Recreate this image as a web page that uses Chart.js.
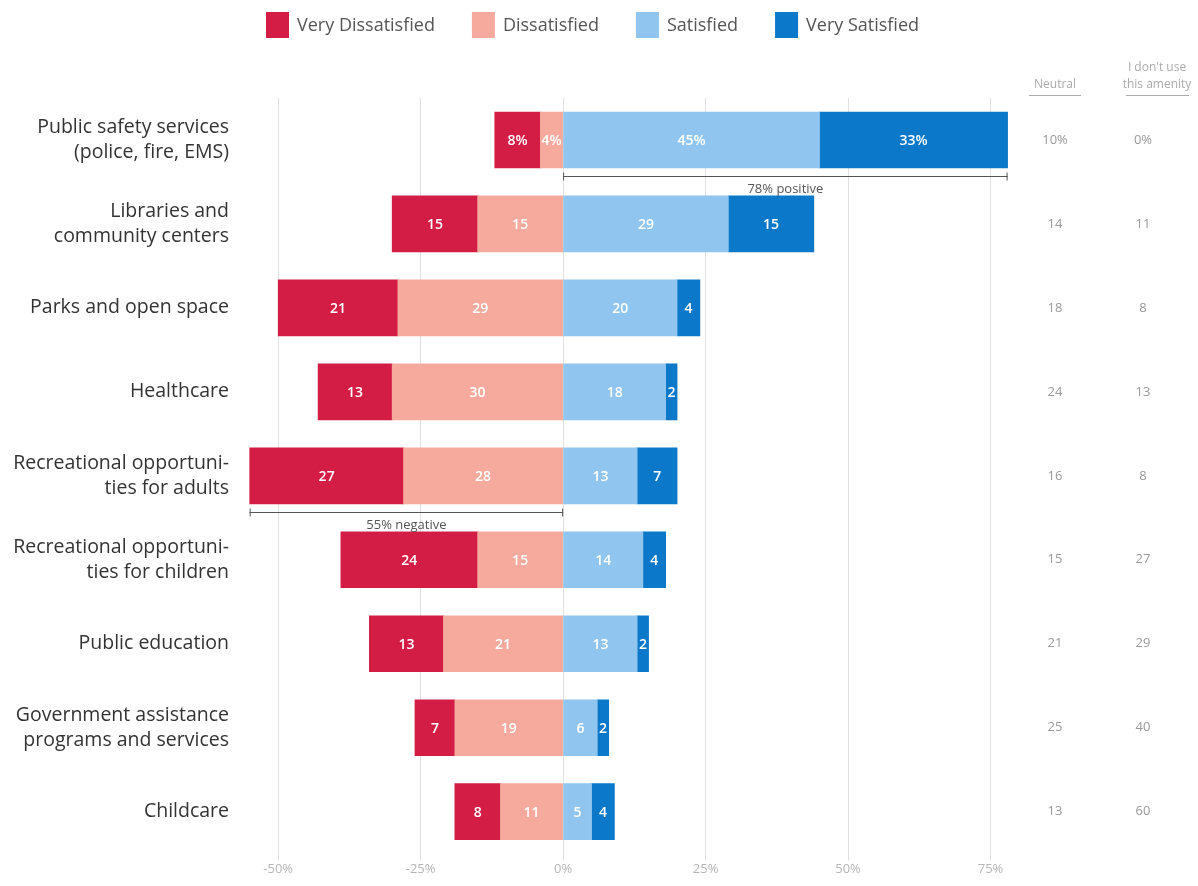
<!DOCTYPE html>
<html>
<head>
<meta charset="utf-8">
<script src="https://cdn.jsdelivr.net/npm/chart.js@4"></script>
<style>
  html, body { margin: 0; padding: 0; background: #fff; overflow: hidden; }
  #wrap { width: 1198px; height: 886px; position: relative; }
  #chart { display: block; }
</style>
</head>
<body>
<div id="wrap"><canvas id="chart"></canvas></div>
<script>
const categories = [
  ["Public safety services", "(police, fire, EMS)"],
  ["Libraries and", "community centers"],
  "Parks and open space",
  "Healthcare",
  ["Recreational opportuni-", "ties for adults"],
  ["Recreational opportuni-", "ties for children"],
  "Public education",
  ["Government assistance", "programs and services"],
  "Childcare",
];
const veryDissatisfied = [8, 15, 21, 13, 27, 24, 13, 7, 8];
const dissatisfied = [4, 15, 29, 30, 28, 15, 21, 19, 11];
const satisfied = [45, 29, 20, 18, 13, 14, 13, 6, 5];
const verySatisfied = [33, 15, 4, 2, 7, 4, 2, 2, 4];
const neutral = [10, 14, 18, 24, 16, 15, 21, 25, 13];
const notUsed = [0, 11, 8, 13, 8, 27, 29, 40, 60];
const xTicks = [-50, -25, 0, 25, 50, 75];

// rows that get a "% positive" / "% negative" bracket underneath
const positiveCallout = 0;
const negativeCallout = 4;

const colors = {
  vd: "#d31d45",
  d: "#f5aa9d",
  s: "#8fc5ee",
  vs: "#0b78c9",
};

Chart.defaults.font.family = "'Open Sans', sans-serif";

// negatives stack outward from zero, so Dissatisfied goes before Very Dissatisfied
const legendOrder = [1, 0, 2, 3];

// legend row across the top
const topLegend = {
  id: "topLegend",
  afterDraw(chart) {
    const ctx = chart.ctx;
    const items = chart.data.datasets
      .map((ds, i) => ({ ds, pos: legendOrder[i] }))
      .sort((a, b) => a.pos - b.pos);
    ctx.save();
    ctx.font = "18px 'Open Sans', sans-serif";
    ctx.textBaseline = "middle";
    let x = 266;
    items.forEach(({ ds }) => {
      ctx.fillStyle = ds.backgroundColor;
      ctx.fillRect(x, 12, 23, 26);
      ctx.fillStyle = "#555";
      ctx.fillText(ds.label, x + 31, 26);
      x += 31 + ctx.measureText(ds.label).width + 37;
    });
    ctx.restore();
  },
};

// white numbers inside each segment, first row gets a % sign
const segmentLabels = {
  id: "segmentLabels",
  afterDatasetsDraw(chart) {
    const ctx = chart.ctx;
    ctx.save();
    ctx.fillStyle = "#fff";
    ctx.font = "600 14px 'Open Sans', sans-serif";
    ctx.textAlign = "center";
    ctx.textBaseline = "middle";
    chart.data.datasets.forEach((ds, i) => {
      chart.getDatasetMeta(i).data.forEach((bar, j) => {
        const v = Math.abs(ds.data[j]);
        const txt = j === 0 ? v + "%" : String(v);
        ctx.fillText(txt, (bar.x + bar.base) / 2, bar.y + 1);
      });
    });
    ctx.restore();
  },
};

// brackets under the first row (positive) and fifth row (negative)
const callouts = {
  id: "callouts",
  afterDatasetsDraw(chart) {
    const ctx = chart.ctx,
      x = chart.scales.x,
      y = chart.scales.y;
    const drawBracket = (row, from, to, text) => {
      const yy = Math.round(y.getPixelForValue(row) + 28 + 8) + 0.5,
        x1 = x.getPixelForValue(from),
        x2 = x.getPixelForValue(to);
      ctx.save();
      ctx.strokeStyle = "#555";
      ctx.lineWidth = 1;
      ctx.beginPath();
      ctx.moveTo(x1, yy);
      ctx.lineTo(x2, yy);
      ctx.moveTo(x1 + 0.5, yy - 4);
      ctx.lineTo(x1 + 0.5, yy + 4);
      ctx.moveTo(x2 - 0.5, yy - 4);
      ctx.lineTo(x2 - 0.5, yy + 4);
      ctx.stroke();
      ctx.fillStyle = "#555";
      ctx.font = "13px 'Open Sans', sans-serif";
      ctx.textAlign = "center";
      ctx.textBaseline = "middle";
      ctx.fillText(text, (x1 + x2) / 2, yy + 13);
      ctx.restore();
    };
    const pos = satisfied[positiveCallout] + verySatisfied[positiveCallout];
    drawBracket(positiveCallout, 0, pos, pos + "% positive");
    const neg = veryDissatisfied[negativeCallout] + dissatisfied[negativeCallout];
    drawBracket(negativeCallout, -neg, 0, neg + "% negative");
  },
};

// the Neutral and "I don't use" columns on the right
const sideColumns = {
  id: "sideColumns",
  afterDraw(chart) {
    const ctx = chart.ctx,
      area = chart.chartArea,
      y = chart.scales.y,
      colN = area.right + 36,
      colU = area.right + 124;
    ctx.save();
    ctx.fillStyle = "#aaa";
    ctx.strokeStyle = "#aaa";
    ctx.font = "12px 'Open Sans', sans-serif";
    ctx.textAlign = "center";
    ctx.textBaseline = "middle";
    ctx.fillText("Neutral", colN, 85);
    ctx.fillText("I don't use", colU + 14, 68);
    ctx.fillText("this amenity", colU + 14, 85);
    ctx.lineWidth = 1;
    ctx.beginPath();
    ctx.moveTo(colN - 26, 95.5);
    ctx.lineTo(colN + 26, 95.5);
    ctx.moveTo(colU - 17, 95.5);
    ctx.lineTo(colU + 46, 95.5);
    ctx.stroke();
    ctx.font = "13px 'Open Sans', sans-serif";
    ctx.fillStyle = "#999";
    categories.forEach((c, i) => {
      const yy = y.getPixelForValue(i);
      const suffix = i === 0 ? "%" : "";
      ctx.fillText(neutral[i] + suffix, colN, yy);
      ctx.fillText(notUsed[i] + suffix, colU, yy);
    });
    ctx.restore();
  },
};

new Chart(document.getElementById("chart"), {
  type: "bar",
  data: {
    labels: categories,
    datasets: [
      { label: "Dissatisfied", data: dissatisfied.map((v) => -v), backgroundColor: colors.d },
      { label: "Very Dissatisfied", data: veryDissatisfied.map((v) => -v), backgroundColor: colors.vd },
      { label: "Satisfied", data: satisfied, backgroundColor: colors.s },
      { label: "Very Satisfied", data: verySatisfied, backgroundColor: colors.vs },
    ].map((d) => ({ ...d, borderWidth: 0, barThickness: 56 })),
  },
  options: {
    indexAxis: "y",
    responsive: true,
    maintainAspectRatio: false,
    animation: false,
    layout: { padding: { top: 98, right: 179, bottom: 0, left: 0 } },
    plugins: {
      legend: { display: false },
      tooltip: { enabled: false },
    },
    scales: {
      x: {
        stacked: true,
        min: -56,
        max: 80,
        afterBuildTicks: (s) => {
          s.ticks = xTicks.map((v) => ({ value: v }));
        },
        afterFit: (s) => {
          s.height = 21;
        },
        grid: { color: "#e0e0e0", tickLength: 7 },
        border: { display: false },
        ticks: {
          color: "#b5b5b5",
          font: { size: 13 },
          padding: 1,
          callback: (v) => v + "%",
        },
      },
      y: {
        stacked: true,
        afterFit: (s) => {
          s.width = 244;
        },
        grid: { display: false },
        border: { display: false },
        ticks: {
          color: "#333",
          font: { size: 19.5, lineHeight: 1.3 },
          padding: 7,
          autoSkip: false,
        },
      },
    },
  },
  plugins: [topLegend, segmentLabels, callouts, sideColumns],
});
</script>
</body>
</html>
